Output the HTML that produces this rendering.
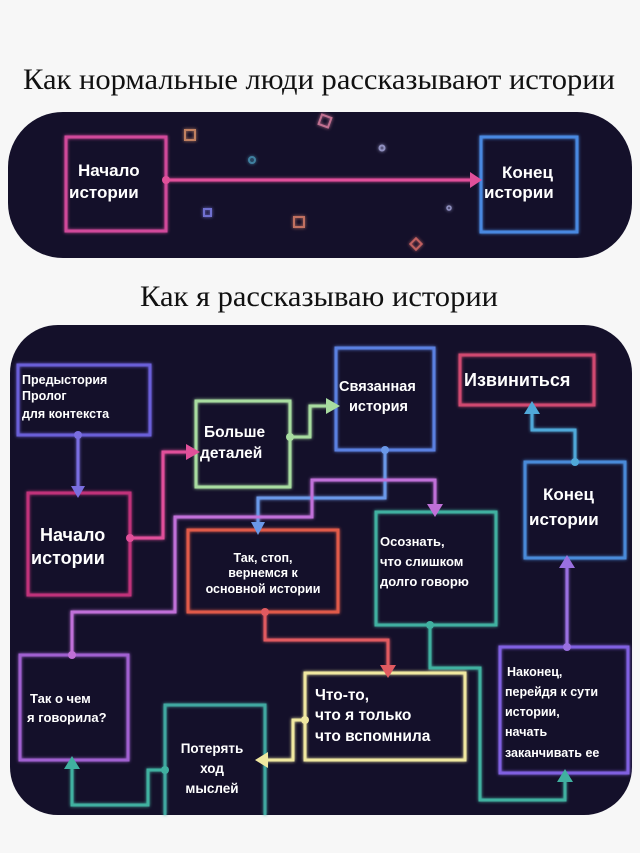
<!DOCTYPE html>
<html><head><meta charset="utf-8">
<style>
html,body{margin:0;padding:0;background:#f7f7f7;}
svg{display:block}
.t{font-family:"Liberation Serif","DejaVu Serif",serif;fill:#111}
.w{font-family:"Liberation Sans","DejaVu Sans",sans-serif;fill:#fff;font-weight:bold}
</style></head><body>
<svg width="640" height="853" viewBox="0 0 640 853" xmlns="http://www.w3.org/2000/svg">
<defs>
<filter id="g" x="-20%" y="-20%" width="140%" height="140%"><feGaussianBlur stdDeviation="1.5" result="b"/><feMerge><feMergeNode in="b"/><feMergeNode in="SourceGraphic"/></feMerge></filter>
</defs>
<rect width="640" height="853" fill="#f7f7f7"/>
<text class="t" x="319" y="89" font-size="30" text-anchor="middle" textLength="592" lengthAdjust="spacingAndGlyphs">Как нормальные люди рассказывают истории</text>
<text class="t" x="319" y="306" font-size="30" text-anchor="middle" textLength="358" lengthAdjust="spacingAndGlyphs">Как я рассказываю истории</text>

<!-- top panel -->
<rect x="8" y="112" width="624" height="146" rx="55" fill="#14102a"/>
<g fill="none" stroke-width="3" filter="url(#g)">
<rect x="66" y="137" width="100" height="94" stroke="#d04a9a"/>
<rect x="481" y="137" width="96" height="95" stroke="#4a88e0"/>
<line x1="166" y1="180" x2="472" y2="180" stroke="#e0509a"/>
<rect x="185" y="130" width="10" height="10" stroke="#c08060" stroke-width="2"/>
<rect x="320" y="116" width="10" height="10" stroke="#c07090" stroke-width="2" transform="rotate(20 325 121)"/>
<rect x="204" y="209" width="7" height="7" stroke="#7070d0" stroke-width="2"/>
<rect x="294" y="217" width="10" height="10" stroke="#c07060" stroke-width="2"/>
<rect x="412" y="240" width="8" height="8" stroke="#c06060" stroke-width="2" transform="rotate(45 416 244)"/>
<circle cx="252" cy="160" r="3" stroke="#4080a0" stroke-width="2"/>
<circle cx="382" cy="148" r="2.5" stroke="#9090c0" stroke-width="2"/>
<circle cx="449" cy="208" r="2" stroke="#9090c0" stroke-width="1.5"/>
</g>
<circle cx="166" cy="180" r="4" fill="#e0509a"/>
<polygon points="470,172 482,180 470,188" fill="#e0509a"/>
<text class="w" font-size="17"><tspan x="78" y="176">Начало</tspan><tspan x="69" y="198">истории</tspan></text>
<text class="w" font-size="17"><tspan x="502" y="178">Конец</tspan><tspan x="484" y="198">истории</tspan></text>

<!-- bottom panel -->
<rect x="10" y="325" width="622" height="490" rx="48" fill="#14102a"/>
<g fill="none" stroke-width="3" filter="url(#g)">
<rect x="18" y="365" width="132" height="70" stroke="#6a5fd8"/>
<rect x="28" y="493" width="102" height="102" stroke="#c0307a"/>
<rect x="196" y="401" width="94" height="86" stroke="#a8dca0"/>
<rect x="336" y="348" width="98" height="102" stroke="#5a80e0"/>
<rect x="460" y="355" width="134" height="50" stroke="#d04870"/>
<rect x="525" y="462" width="100" height="96" stroke="#4a8ad8"/>
<rect x="188" y="530" width="150" height="82" stroke="#e05a48"/>
<rect x="376" y="512" width="120" height="113" stroke="#40b0a0"/>
<rect x="20" y="655" width="108" height="105" stroke="#a060d0"/>
<rect x="305" y="673" width="160" height="87" stroke="#f0e8a0"/>
<path d="M165 815 V705 H265 V815" stroke="#40a8a0"/>
<rect x="500" y="647" width="128" height="126" stroke="#8060e0"/>
<path d="M78 435 V488" stroke="#7a6ee0"/>
<path d="M130 538 H163 V452 H188" stroke="#e0509a"/>
<path d="M290 437 H310 V406 H328" stroke="#a8dca0"/>
<path d="M385 450 V498 H258 V524" stroke="#6a98e8"/>
<path d="M72 655 V612 H175 V517 H312 V480 H435 V506" stroke="#c070d8"/>
<path d="M265 612 V640 H388 V667" stroke="#e05a60"/>
<path d="M430 625 V668 H480 V800 H565 V780" stroke="#40b0a0"/>
<path d="M567 647 V565" stroke="#9a70e0"/>
<path d="M575 462 V430 H532 V412" stroke="#50a8d8"/>
<path d="M305 720 H293 V760 H266" stroke="#f0e8a0"/>
<path d="M165 770 H148 V805 H72 V767" stroke="#40b0a0"/>
</g>
<g>
<circle cx="78" cy="435" r="4" fill="#7a6ee0"/>
<circle cx="130" cy="538" r="4" fill="#e0509a"/>
<circle cx="290" cy="437" r="4" fill="#a8dca0"/>
<circle cx="385" cy="450" r="4" fill="#6a98e8"/>
<circle cx="72" cy="655" r="4" fill="#c070d8"/>
<circle cx="265" cy="612" r="4" fill="#e05a60"/>
<circle cx="430" cy="625" r="4" fill="#40b0a0"/>
<circle cx="567" cy="647" r="4" fill="#9a70e0"/>
<circle cx="575" cy="462" r="4" fill="#50a8d8"/>
<circle cx="305" cy="720" r="4" fill="#f0e8a0"/>
<circle cx="165" cy="770" r="4" fill="#40b0a0"/>
</g>
<polygon points="71,486 85,486 78,498" fill="#7a6ee0"/>
<polygon points="186,444 200,452 186,460" fill="#e0509a"/>
<polygon points="326,398 340,406 326,414" fill="#a8dca0"/>
<polygon points="251,522 265,522 258,535" fill="#6a98e8"/>
<polygon points="427,504 443,504 435,517" fill="#c070d8"/>
<polygon points="380,665 396,665 388,678" fill="#e05a60"/>
<polygon points="557,782 573,782 565,769" fill="#40b0a0"/>
<polygon points="559,568 575,568 567,555" fill="#9a70e0"/>
<polygon points="524,414 540,414 532,401" fill="#50a8d8"/>
<polygon points="268,752 268,768 255,760" fill="#f0e8a0"/>
<polygon points="64,769 80,769 72,756" fill="#40b0a0"/>
<text class="w" font-size="12.5"><tspan x="22" y="384">Предыстория</tspan><tspan x="22" y="400">Пролог</tspan><tspan x="22" y="418">для контекста</tspan></text>
<text class="w" font-size="18"><tspan x="40" y="541">Начало</tspan><tspan x="31" y="564">истории</tspan></text>
<text class="w" font-size="15.5"><tspan x="204" y="437">Больше</tspan><tspan x="200" y="458">деталей</tspan></text>
<text class="w" font-size="14.5"><tspan x="339" y="391">Связанная</tspan><tspan x="349" y="411">история</tspan></text>
<text class="w" font-size="18"><tspan x="464" y="386">Извиниться</tspan></text>
<text class="w" font-size="17"><tspan x="543" y="500">Конец</tspan><tspan x="529" y="525">истории</tspan></text>
<text class="w" font-size="12.5" text-anchor="middle"><tspan x="263" y="562">Так, стоп,</tspan><tspan x="263" y="577">вернемся к</tspan><tspan x="263" y="593">основной истории</tspan></text>
<text class="w" font-size="13"><tspan x="380" y="546">Осознать,</tspan><tspan x="380" y="566">что слишком</tspan><tspan x="380" y="586">долго говорю</tspan></text>
<text class="w" font-size="13"><tspan x="30" y="703">Так о чем</tspan><tspan x="27" y="722">я говорила?</tspan></text>
<text class="w" font-size="15.5"><tspan x="315" y="700">Что-то,</tspan><tspan x="315" y="720">что я только</tspan><tspan x="315" y="741">что вспомнила</tspan></text>
<text class="w" font-size="13.5" text-anchor="middle"><tspan x="212" y="753">Потерять</tspan><tspan x="212" y="773">ход</tspan><tspan x="212" y="793">мыслей</tspan></text>
<text class="w" font-size="12.5"><tspan x="507" y="676">Наконец,</tspan><tspan x="505" y="696">перейдя к сути</tspan><tspan x="505" y="716">истории,</tspan><tspan x="505" y="736">начать</tspan><tspan x="505" y="757">заканчивать ее</tspan></text>
</svg>
</body></html>
